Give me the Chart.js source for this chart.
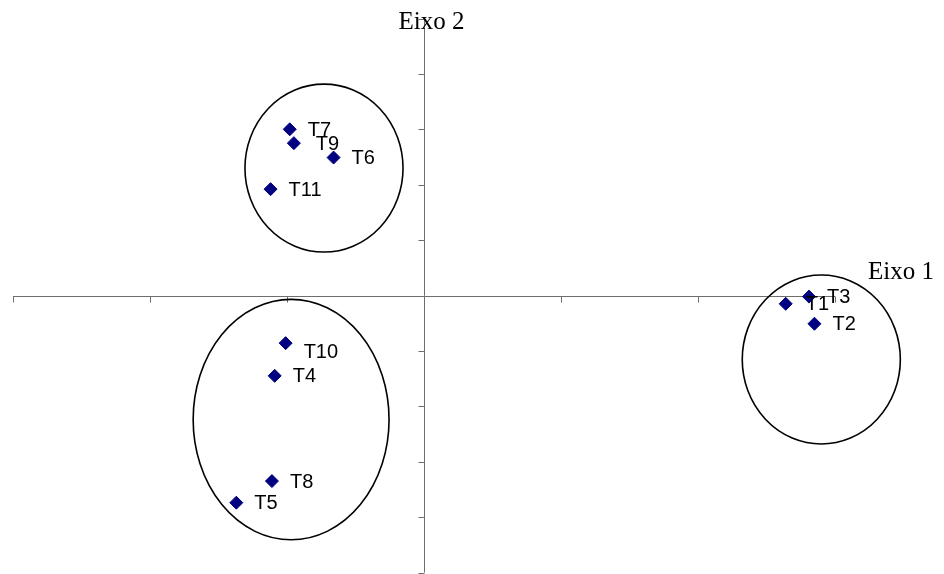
<!DOCTYPE html>
<html>
<head>
<meta charset="utf-8">
<script src="https://cdn.jsdelivr.net/npm/chart.js@4"></script>
<style>
  body { margin: 0; background: #fff; }
  #wrap { width: 944px; height: 574px; }
</style>
</head>
<body>
<div id="wrap"><canvas id="chart" width="944" height="574"></canvas></div>
<script>
// treatment labels and their coordinates on the two axes
const treatments = ['T7', 'T9', 'T6', 'T11', 'T10', 'T4', 'T8', 'T5', 'T1', 'T3', 'T2'];
const axis1 = [-0.98, -0.95, -0.66, -1.12, -1.01, -1.09, -1.11, -1.37, 2.64, 2.81, 2.85];
const axis2 = [3.00, 2.75, 2.49, 1.92, -0.86, -1.45, -3.35, -3.74, -0.15, -0.02, -0.51];

// tick values of the crossed axes
const xTicks = [-3, -2, -1, 0, 1, 2, 3];
const yTicks = [-5, -4, -3, -2, -1, 0, 1, 2, 3, 4, 5];

// groups circled on the plot (centre and radii in axis units)
const groupCx = [-0.73, -0.97, 2.90];
const groupCy = [2.30, -2.24, -1.155];
const groupRx = [0.577, 0.715, 0.577];
const groupRy = [1.516, 2.17, 1.525];

const points = treatments.map((t, i) => ({ x: axis1[i], y: axis2[i] }));

// small nudges so labels sit like in the original
const labelNudge = { T9: [4, 0], T10: [0, 8], T1: [2, 0] };

const crossAxes = {
    id: 'crossAxes',
    beforeDatasetsDraw(chart) {
        const ctx = chart.ctx;
        const xs = chart.scales.x;
        const ys = chart.scales.y;
        const x0 = Math.round(xs.getPixelForValue(0)) + 0.5;
        const y0 = Math.round(ys.getPixelForValue(0)) + 0.5;
        ctx.save();
        ctx.strokeStyle = '#6e6e6e';
        ctx.lineWidth = 1;
        ctx.beginPath();
        // horizontal axis
        ctx.moveTo(xs.getPixelForValue(xTicks[0]), y0);
        ctx.lineTo(xs.getPixelForValue(xTicks[xTicks.length - 1]), y0);
        xTicks.forEach(v => {
            const px = Math.round(xs.getPixelForValue(v)) + 0.5;
            ctx.moveTo(px, y0);
            ctx.lineTo(px, y0 + 6);
        });
        // vertical axis
        ctx.moveTo(x0, ys.getPixelForValue(yTicks[yTicks.length - 1]));
        ctx.lineTo(x0, ys.getPixelForValue(yTicks[0]));
        yTicks.forEach(v => {
            const py = Math.round(ys.getPixelForValue(v)) + 0.5;
            ctx.moveTo(x0, py);
            ctx.lineTo(x0 - 6, py);
        });
        ctx.stroke();

        // circled groups
        ctx.strokeStyle = '#000';
        ctx.lineWidth = 1.6;
        groupCx.forEach((cx, i) => {
            const px = xs.getPixelForValue(cx);
            const py = ys.getPixelForValue(groupCy[i]);
            const rx = Math.abs(xs.getPixelForValue(cx + groupRx[i]) - px);
            const ry = Math.abs(ys.getPixelForValue(groupCy[i] + groupRy[i]) - py);
            ctx.beginPath();
            ctx.ellipse(px, py, rx, ry, 0, 0, Math.PI * 2);
            ctx.stroke();
        });

        // axis names
        ctx.fillStyle = '#000';
        ctx.font = '25px "Liberation Serif", "Times New Roman", serif';
        ctx.textBaseline = 'alphabetic';
        ctx.textAlign = 'center';
        ctx.fillText('Eixo 2', x0 + 7, ys.top + 10);
        ctx.textAlign = 'left';
        ctx.fillText('Eixo 1', xs.right + 33, y0 - 18);
        ctx.restore();
    },
    afterDatasetsDraw(chart) {
        const ctx = chart.ctx;
        const meta = chart.getDatasetMeta(0);
        ctx.save();
        ctx.fillStyle = '#000';
        ctx.font = '20px "Liberation Sans", Arial, sans-serif';
        ctx.textAlign = 'left';
        ctx.textBaseline = 'middle';
        meta.data.forEach((pt, i) => {
            const nudge = labelNudge[treatments[i]] || [0, 0];
            ctx.fillText(treatments[i], pt.x + 18 + nudge[0], pt.y + 1 + nudge[1]);
        });
        ctx.restore();
    }
};

new Chart(document.getElementById('chart'), {
    type: 'scatter',
    data: {
        labels: treatments,
        datasets: [{
            data: points,
            pointStyle: 'rectRot',
            pointRadius: 6.5,
            pointBorderWidth: 1,
            backgroundColor: '#000080',
            borderColor: '#000080',
            clip: false
        }]
    },
    options: {
        responsive: false,
        animation: false,
        layout: {
            autoPadding: false,
            padding: { left: 13, right: 109, top: 18.5, bottom: 1.5 }
        },
        plugins: {
            legend: { display: false },
            tooltip: { enabled: false }
        },
        scales: {
            x: { type: 'linear', min: -3, max: 3, display: false },
            y: { type: 'linear', min: -5, max: 5, display: false }
        }
    },
    plugins: [crossAxes]
});
</script>
</body>
</html>
